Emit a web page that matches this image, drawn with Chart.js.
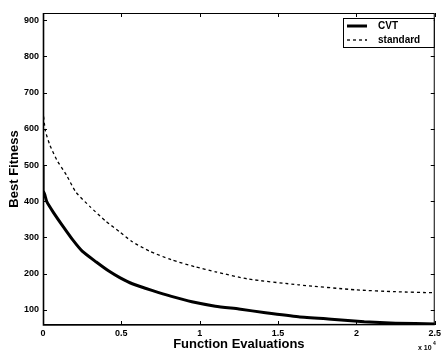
<!DOCTYPE html>
<html>
<head>
<meta charset="utf-8">
<script src="https://cdn.jsdelivr.net/npm/chart.js@4.4.1/dist/chart.umd.min.js"></script>
<style>
  html, body { margin: 0; padding: 0; background: #fff; }
  #wrap { width: 444px; height: 352px; }
</style>
</head>
<body>
<div id="wrap"><canvas id="chart" width="444" height="352"></canvas></div>
<script>
// function evaluations (x 10^4) and best fitness
const cvtX = [0, 0, 0.01, 0.025, 0.065, 0.13, 0.19, 0.25, 0.34, 0.42, 0.49, 0.57, 0.7, 0.82, 0.95, 1.1, 1.25, 1.42, 1.63, 1.84, 2.05, 2.25, 2.5];
const cvtY = [500, 430, 420, 398, 370, 329, 293, 262, 232, 207, 189, 172, 153, 137, 122, 110, 102, 92, 81, 74, 67, 63, 61];
const stdX = [0, 0.015, 0.044, 0.088, 0.15, 0.21, 0.3, 0.4, 0.49, 0.57, 0.68, 0.82, 0.97, 1.1, 1.31, 1.63, 2.0, 2.25, 2.5];
const stdY = [650, 595, 555, 514, 472, 425, 385, 345, 315, 288, 262, 238, 219, 205, 185, 169, 155, 150, 147];
const xTicks = [0, 0.5, 1, 1.5, 2, 2.5];
const yTicks = [100, 200, 300, 400, 500, 600, 700, 800, 900];
const seriesNames = ["CVT", "standard"];

const FONT = "'Liberation Sans', Arial, sans-serif";

function toPoints(xs, ys) {
    return xs.map((x, i) => ({ x: x, y: ys[i] }));
}

// ==================== KHUNG, VẠCH CHIA, CHÚ THÍCH ====================
const frameAndLegend = {
    id: "frameAndLegend",
    afterDatasetsDraw(chart) {
        const ctx = chart.ctx;
        const a = chart.chartArea;
        const sx = chart.scales.x, sy = chart.scales.y;
        ctx.save();
        ctx.strokeStyle = "#000";
        ctx.lineWidth = 1;
        ctx.strokeRect(a.left + 0.5, a.top + 0.5, a.right - a.left - 1, a.bottom - a.top - 1);
        ctx.lineWidth = 1.6;
        ctx.beginPath();
        ctx.moveTo(a.left + 0.5, a.top);
        ctx.lineTo(a.left + 0.5, a.bottom);
        ctx.lineTo(a.right, a.bottom - 0.5);
        ctx.stroke();

        // vạch chia hướng vào trong
        ctx.lineWidth = 1;
        ctx.beginPath();
        yTicks.forEach(v => {
            const y = Math.round(sy.getPixelForValue(v)) + 0.5;
            ctx.moveTo(a.left, y); ctx.lineTo(a.left + 4, y);
            ctx.moveTo(a.right, y); ctx.lineTo(a.right - 4, y);
        });
        xTicks.forEach(v => {
            const x = Math.round(sx.getPixelForValue(v)) + 0.5;
            ctx.moveTo(x, a.bottom); ctx.lineTo(x, a.bottom - 4);
            ctx.moveTo(x, a.top); ctx.lineTo(x, a.top + 4);
        });
        ctx.stroke();

        // chú thích
        const bx = 343, by = 18, bw = a.right - 1 - bx, bh = 29;
        ctx.fillStyle = "#fff";
        ctx.fillRect(bx, by, bw, bh);
        ctx.strokeRect(bx + 0.5, by + 0.5, bw, bh);
        ctx.font = "bold 10px " + FONT;
        ctx.textBaseline = "middle";
        ctx.fillStyle = "#000";
        chart.data.datasets.forEach((ds, i) => {
            const ly = by + 8 + i * 14;
            ctx.lineWidth = ds.borderWidth;
            ctx.setLineDash(ds.borderDash || []);
            ctx.beginPath();
            ctx.moveTo(bx + 4, ly);
            ctx.lineTo(bx + 24, ly);
            ctx.stroke();
            ctx.setLineDash([]);
            ctx.fillText(ds.label, bx + 35, ly);
        });

        // hệ số x 10^4
        ctx.font = "bold 7px " + FONT;
        ctx.textBaseline = "alphabetic";
        ctx.fillText("x 10", 418, 350);
        ctx.font = "bold 5px " + FONT;
        ctx.fillText("4", 433, 345);
        ctx.restore();
    }
};

new Chart(document.getElementById("chart"), {
    type: "scatter",
    data: {
        datasets: [{
            label: seriesNames[0],
            data: toPoints(cvtX, cvtY),
            showLine: true,
            borderColor: "#000",
            borderWidth: 3,
            pointRadius: 0,
            tension: 0.2
        }, {
            label: seriesNames[1],
            data: toPoints(stdX, stdY),
            showLine: true,
            borderColor: "#000",
            borderWidth: 1.3,
            borderDash: [3, 3],
            pointRadius: 0,
            tension: 0.2
        }]
    },
    options: {
        responsive: false,
        animation: false,
        layout: { padding: { top: 13, right: 6, left: 0, bottom: 0 } },
        plugins: {
            legend: { display: false },
            tooltip: { enabled: false }
        },
        scales: {
            x: {
                type: "linear",
                min: 0,
                max: 2.5,
                afterBuildTicks: s => { s.ticks = xTicks.map(v => ({ value: v })); },
                afterFit: s => { s.height = 27; },
                grid: { display: false, drawTicks: false },
                border: { display: false },
                ticks: {
                    padding: 3,
                    color: "#000",
                    maxRotation: 0,
                    font: { family: FONT, size: 9, weight: "bold" },
                    callback: v => String(v)
                },
                title: {
                    display: true,
                    text: "Function Evaluations",
                    color: "#000",
                    padding: { top: 0, bottom: 0 },
                    font: { family: FONT, size: 13, weight: "bold" }
                }
            },
            y: {
                min: 58,
                max: 920,
                afterBuildTicks: s => { s.ticks = yTicks.map(v => ({ value: v })); },
                afterFit: s => { s.width = 43; },
                grid: { display: false, drawTicks: false },
                border: { display: false },
                ticks: {
                    padding: 4,
                    color: "#000",
                    font: { family: FONT, size: 9, weight: "bold" }
                },
                title: {
                    display: true,
                    text: "Best Fitness",
                    color: "#000",
                    padding: { top: 7, bottom: 0 },
                    font: { family: FONT, size: 13, weight: "bold" }
                }
            }
        }
    },
    plugins: [frameAndLegend]
});
</script>
</body>
</html>
